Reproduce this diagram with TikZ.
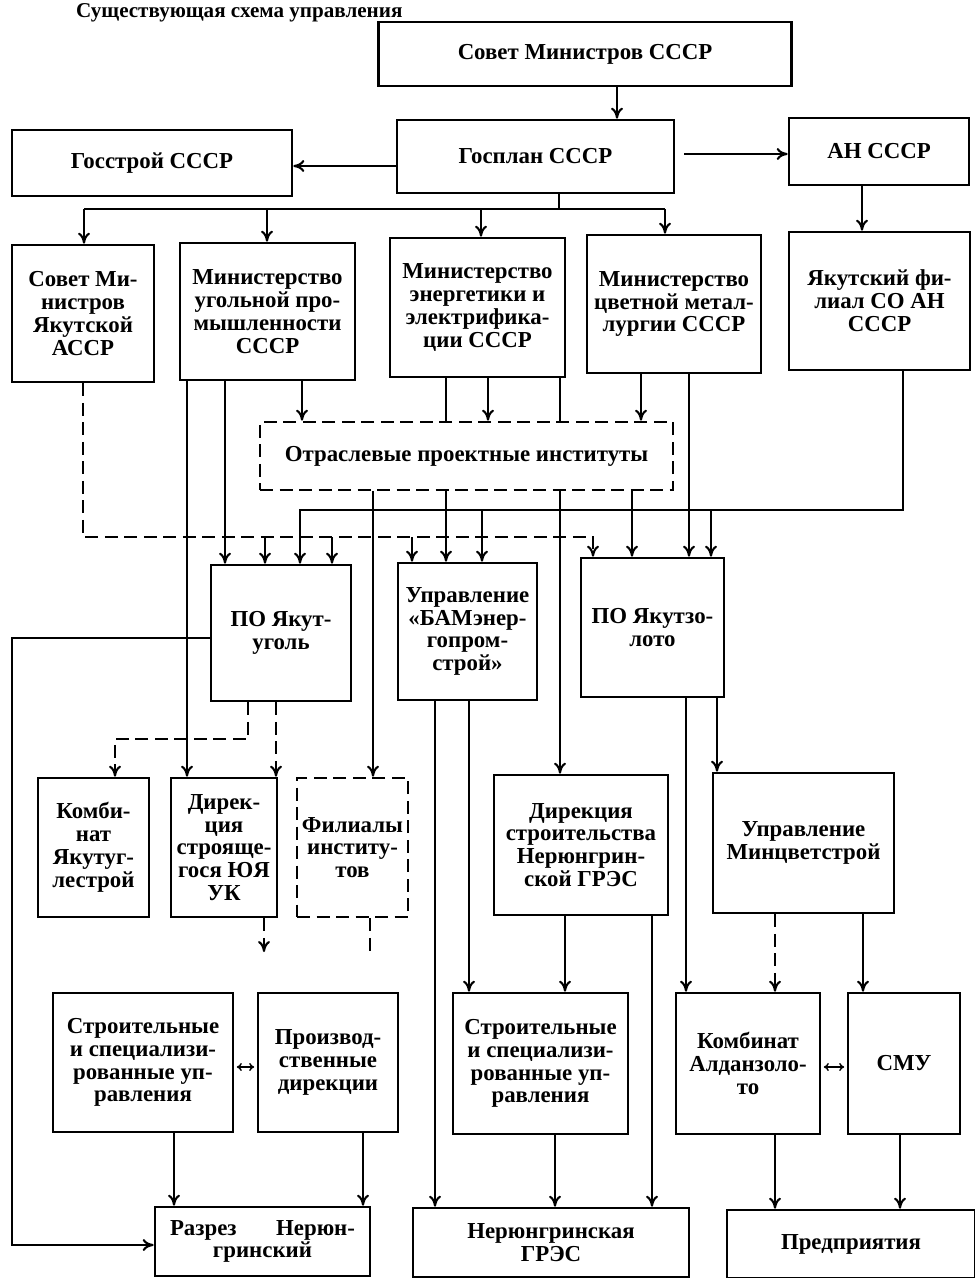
\documentclass[tikz,border=0pt]{standalone}
\usepackage{fontspec}
\setmainfont{Liberation Serif}
\usetikzlibrary{arrows.meta}
\newcommand{\lab}{\bfseries\fontsize{13}{13}\selectfont}

\begin{document}
\begin{tikzpicture}[x=0.2mm, y=-0.2mm,
    blk/.style={draw, line width=1.5pt, align=center, inner sep=0pt, font=\lab},
    dblk/.style={blk, dash pattern=on 2.6mm off 1.3mm},
    ln/.style={line width=1.2pt},
    dsh/.style={ln, dash pattern=on 2.6mm off 1.3mm},
    arr/.style={ln, -{To[length=2.2mm, width=2.4mm]}},
    darr/.style={dsh, -{To[length=2.2mm, width=2.4mm]}},
    dbl/.style={line width=0.8pt, shorten <=0.5mm, shorten >=0.5mm,
        {To[length=1mm, width=1.6mm]}-{To[length=1mm, width=1.6mm]}}]

    \useasboundingbox (0,0) rectangle (974,1278);

    % Titulo
    \node[anchor=base west, font=\bfseries\fontsize{12}{12}\selectfont] (titulo) at (70,18) {Существующая схема управления};

    % Cajas de arriba
    \node[blk, minimum width=82.6mm, minimum height=12.8mm] (sovmin) at (585,54) {Совет Министров СССР};
    \node[blk, minimum width=56mm, minimum height=13.2mm] (gosstroy) at (152,163) {Госстрой СССР};
    \node[blk, minimum width=55.4mm, minimum height=14.6mm] (gosplan) at (535.5,156.5) {Госплан СССР};
    \node[blk, minimum width=36mm, minimum height=13.4mm] (an) at (879,151.5) {АН СССР};

    % Ministerios
    \node[blk, minimum width=28.4mm, minimum height=27.4mm] (smya) at (83,313.5) {Совет Ми-\\нистров\\Якутской\\АССР};
    \node[blk, minimum width=35mm, minimum height=27.4mm] (minugol) at (267.5,311.5) {Министерство\\угольной про-\\мышленности\\СССР};
    \node[blk, minimum width=35mm, minimum height=27.8mm] (minenerg) at (477.5,307.5) {Министерство\\энергетики и\\электрифика-\\ции СССР};
    \node[blk, minimum width=34.8mm, minimum height=27.6mm] (mincvet) at (674,304) {Министерство\\цветной метал-\\лургии СССР};
    \node[blk, minimum width=36.2mm, minimum height=27.6mm] (yaf) at (879.5,301) {Якутский фи-\\лиал СО АН\\СССР};

    % Institutos
    \node[dblk, minimum width=82.6mm, minimum height=13.6mm] (otrasl) at (466.5,456) {Отраслевые проектные институты};

    % Fila del medio
    \node[blk, minimum width=28mm, minimum height=27.2mm] (poyu) at (281,633) {ПО Якут-\\уголь};
    \node[blk, minimum width=27.8mm, minimum height=27.4mm] (bam) at (467.5,631.5) {Управление\\«БАМэнер-\\гопром-\\строй»};
    \node[blk, minimum width=28.6mm, minimum height=27.8mm] (poyz) at (652.5,627.5) {ПО Якутзо-\\лото};

    % Fila 6
    \node[blk, minimum width=22.2mm, minimum height=27.8mm] (kombyu) at (93.5,847.5) {Комби-\\нат\\Якутуг-\\лестрой};
    \node[blk, minimum width=21.2mm, minimum height=27.8mm] (diryu) at (224,847.5) {Дирек-\\ция\\строяще-\\гося ЮЯ\\УК};
    \node[dblk, minimum width=22.2mm, minimum height=27.8mm] (filial) at (352.5,847.5) {Филиалы\\институ-\\тов};
    \node[blk, minimum width=34.8mm, minimum height=28mm] (dirgres) at (581,845) {Дирекция\\строительства\\Нерюнгрин-\\ской ГРЭС};
    \node[blk, minimum width=36.2mm, minimum height=28mm] (minstroy) at (803.5,843) {Управление\\Минцветстрой};

    % Fila 7
    \node[blk, minimum width=36mm, minimum height=27.8mm] (ssu1) at (143,1062.5) {Строительные\\и специализи-\\рованные уп-\\равления};
    \node[blk, minimum width=28mm, minimum height=27.8mm] (proizv) at (328,1062.5) {Производ-\\ственные\\дирекции};
    \node[blk, minimum width=35mm, minimum height=28.2mm] (ssu2) at (540.5,1063.5) {Строительные\\и специализи-\\рованные уп-\\равления};
    \node[blk, minimum width=28.8mm, minimum height=28.2mm] (aldan) at (748,1063.5) {Комбинат\\Алданзоло-\\то};
    \node[blk, minimum width=22.4mm, minimum height=28.2mm] (smu) at (904,1063.5) {СМУ};

    % Fila de abajo
    \node[blk, minimum width=43mm, minimum height=13.8mm] (razrez) at (262.5,1241.5) {\makebox[37mm][s]{Разрез\hfill Нерюн-}\\гринский};
    \node[blk, minimum width=55.2mm, minimum height=13.8mm] (gres) at (551,1242.5) {Нерюнгринская\\ГРЭС};
    \node[blk, minimum width=49.6mm, minimum height=13.6mm] (predp) at (851,1244) {Предприятия};

    % Flechas de arriba
    \draw[arr] (sovmin.south -| 617,0) -- (gosplan.north -| 617,0);
    \draw[arr] (gosplan.west |- 0,166) -- (gosstroy.east |- 0,166);
    \draw[arr, shorten <=1.8mm] (gosplan.east |- 0,154) -- (an.west |- 0,154);
    \draw[arr] (an.south -| 862,0) -- (yaf.north -| 862,0);

    % Bus del Gosplan
    \coordinate (gB) at (559,209);
    \coordinate (gL) at (84,209);
    \coordinate (gR) at (665,209);
    \draw[ln] (gosplan.south -| gB) -- (gB);
    \draw[ln] (gL) -- (gR);
    \draw[arr] (gL) -- (smya.north -| gL);
    \draw[arr] (gL -| 267,0) -- (minugol.north -| 267,0);
    \draw[arr] (gL -| 481,0) -- (minenerg.north -| 481,0);
    \draw[arr] (gR) -- (mincvet.north -| gR);

    % Linea discontinua del Consejo de Yakutia
    \coordinate (dL) at (83,537);
    \coordinate (dR) at (593,537);
    \draw[darr] (smya.south -| dL) -- (dL) -- (dR) -- (poyz.north -| dR);
    \draw[arr] (dL -| 265,0) -- (poyu.north -| 265,0);
    \draw[arr] (dL -| 332,0) -- (poyu.north -| 332,0);
    \draw[arr] (dL -| 412,0) -- (bam.north -| 412,0);

    % Ministerio del carbon
    \draw[arr] (minugol.south -| 187,0) -- (diryu.north -| 187,0);
    \draw[arr] (minugol.south -| 225,0) -- (poyu.north -| 225,0);
    \draw[arr] (minugol.south -| 302,0) -- (otrasl.north -| 302,0);

    % Ministerio de energia
    \draw[ln] (minenerg.south -| 446,0) -- (otrasl.north -| 446,0);
    \draw[arr] (otrasl.south -| 446,0) -- (bam.north -| 446,0);
    \draw[arr] (minenerg.south -| 488,0) -- (otrasl.north -| 488,0);
    \draw[ln] (minenerg.south -| 560,0) -- (otrasl.north -| 560,0);
    \draw[arr] (otrasl.south -| 560,0) -- (dirgres.north -| 560,0);

    % Ministerio de metalurgia
    \draw[arr] (mincvet.south -| 641,0) -- (otrasl.north -| 641,0);
    \draw[arr] (mincvet.south -| 689,0) -- (poyz.north -| 689,0);

    % Bus de la filial
    \coordinate (yL) at (300,510);
    \coordinate (yR) at (903,510);
    \draw[arr] (yaf.south -| yR) -- (yR) -- (yL) -- (poyu.north -| yL);
    \draw[arr] (yL -| 482,0) -- (bam.north -| 482,0);
    \draw[arr] (yL -| 711,0) -- (poyz.north -| 711,0);

    % Institutos hacia abajo
    \draw[arr] (otrasl.south -| 373,0) -- (filial.north -| 373,0);
    \draw[arr] (otrasl.south -| 632,0) -- (poyz.north -| 632,0);

    % PO Yakutugol
    \coordinate (lw) at (12,638);
    \draw[arr] (poyu.west |- lw) -- (lw) |- (razrez.west |- 0,1245);
    \coordinate (pd) at (115,739);
    \draw[darr] (poyu.south -| 248,0) |- (pd) -- (kombyu.north -| pd);
    \draw[darr] (poyu.south -| 276,0) -- (diryu.north -| 276,0);

    % BAM y Yakutzoloto
    \draw[arr] (bam.south -| 435,0) -- (gres.north -| 435,0);
    \draw[arr] (bam.south -| 469,0) -- (ssu2.north -| 469,0);
    \draw[arr] (poyz.south -| 686,0) -- (aldan.north -| 686,0);
    \draw[arr] (poyz.south -| 717,0) -- (minstroy.north -| 717,0);

    % Fila 6 hacia abajo
    \coordinate (d1) at (264,952);
    \draw[darr] (diryu.south -| d1) -- (d1);
    \coordinate (f1) at (370,953);
    \draw[dsh] (filial.south -| f1) -- (f1);
    \draw[arr] (dirgres.south -| 565,0) -- (ssu2.north -| 565,0);
    \draw[arr] (dirgres.south -| 652,0) -- (gres.north -| 652,0);
    \draw[darr] (minstroy.south -| 775,0) -- (aldan.north -| 775,0);
    \draw[arr] (minstroy.south -| 863,0) -- (smu.north -| 863,0);

    % Flechas dobles
    \draw[dbl] (ssu1.east |- 0,1067) -- (proizv.west |- 0,1067);
    \draw[dbl] (aldan.east |- 0,1067) -- (smu.west |- 0,1067);

    % Fila 7 hacia abajo
    \draw[arr] (ssu1.south -| 174,0) -- (razrez.north -| 174,0);
    \draw[arr] (proizv.south -| 363,0) -- (razrez.north -| 363,0);
    \draw[arr] (ssu2.south -| 555,0) -- (gres.north -| 555,0);
    \draw[arr] (aldan.south -| 775,0) -- (predp.north -| 775,0);
    \draw[arr] (smu.south -| 900,0) -- (predp.north -| 900,0);
\end{tikzpicture}
\end{document}
